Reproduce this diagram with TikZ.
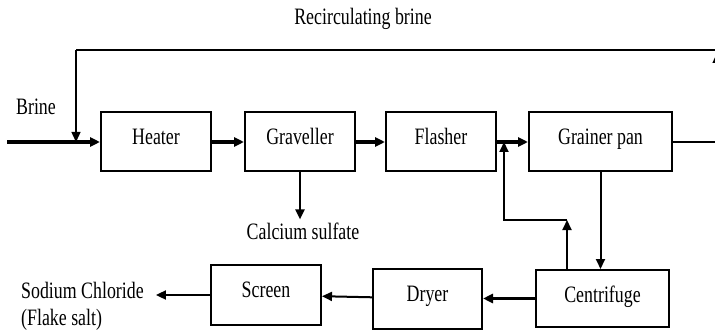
\documentclass[tikz,border=0pt]{standalone}
\usepackage{fontspec}
\setmainfont{Liberation Serif}[FakeStretch=0.76]
\usepackage{tikz}
\usetikzlibrary{arrows.meta,positioning,calc}
\tikzset{%
  >={Triangle[width=9pt,length=10pt]},
  % Specifications for style of nodes:
          unit/.style = {rectangle, draw=black, line width=2pt,
                         minimum width=110pt, minimum height=59pt,
                         inner sep=0pt, text centered,
                         text height=16pt, text depth=11pt},
      widebox/.style = {unit, minimum width=143pt},
        label/.style = {inner sep=2pt},
    mainflow/.style = {->, line width=3.4pt},
     sideflow/.style = {->, line width=2pt},
      backflow/.style = {line width=1.3pt},
}

\begin{document}
\begin{tikzpicture}[x=1pt, y=-1pt, node distance=31pt,
    every node/.style={font=\fontsize{23.5}{27}\selectfont}]
  \useasboundingbox (0,0) rectangle (715,334);
  \clip (0,0) rectangle (715,334);
  % Specification of nodes (position, etc.)
  \node (heater)   [unit] at (156,142)          {Heater};
  \node (graveller)[unit, right=32pt of heater] {Graveller};
  \node (flasher)  [unit, right of=graveller, node distance=141pt] {Flasher};
  \node (grainer)  [widebox, right=31pt of flasher] {Grainer pan};
  \node (centrifuge)[unit, minimum width=133pt, minimum height=57pt,
                     text depth=8pt] at (602.5,298.5) {Centrifuge};
  \node (dryer)    [unit, left=52pt of centrifuge, minimum width=109pt, minimum height=60pt] {Dryer};
  \node (screen)   [unit, minimum height=60pt] at (266,295) {Screen};
  % text labels
  \node (brine)    [label] at (36,107)  {Brine};
  \node (recirc)   [label] at (363,19)  {Recirculating brine};
  \node (calcium)  [label, inner sep=3pt] at (303,231) {Calcium sulfate};
  \node (sodium)   [label, inner sep=0pt, anchor=west, align=left] at (21,306)
                   {Sodium Chloride\\(Flake salt)};
  % helper points of the loops
  \coordinate (feed)  at (7,142);
  \coordinate (loopL) at (76,50);
  \coordinate (loopR) at (717,50);
  \coordinate (riseR) at (717,142);
  \coordinate (turn)  at (567,220);
  \coordinate (join)  at (504,220);
  % Specification of lines between nodes specified above
  \draw[mainflow] (feed) -- (heater);
  \draw[mainflow] (heater) -- (graveller);
  \draw[mainflow] (graveller) -- (flasher);
  \draw[mainflow] (flasher) -- (grainer);
  \draw[sideflow] (graveller.south) -- (graveller.south |- calcium.north);
  \draw[sideflow] (grainer.south) -- (grainer.south |- centrifuge.north);
  \draw[sideflow] (centrifuge.north -| turn) -- (turn);
  \draw[sideflow] (turn) -- (join) -- (join |- flasher.east);
  \draw[mainflow] (centrifuge) -- (dryer);
  \draw[sideflow] (dryer) -- (screen);
  \draw[sideflow, shorten >=12pt] (screen) -- (sodium.east |- screen);
  % recirculating brine
  \draw[backflow] (grainer.east) -- (riseR);
  \draw[backflow, ->, shorten >=3pt] (riseR) -- (loopR);
  \draw[backflow] (loopR) -- (loopL);
  \draw[backflow, ->] (loopL) -- (loopL |- heater.west);
\end{tikzpicture}
\end{document}
